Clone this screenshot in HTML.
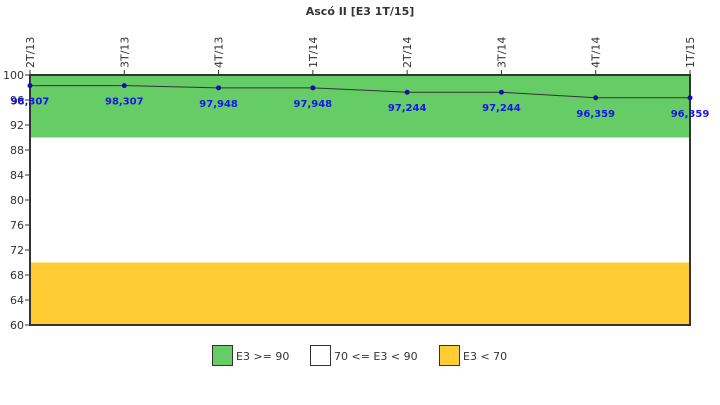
<!DOCTYPE html>
<html><head><meta charset="utf-8"><style>
body{margin:0;background:#fff;}
svg text{font-family:"DejaVu Sans","Liberation Sans",sans-serif;}
</style></head><body>
<svg id="c" width="720" height="400" xmlns="http://www.w3.org/2000/svg">
<text x="360" y="15" text-anchor="middle" font-size="11" font-weight="bold" fill="#333">Ascó II [E3 1T/15]</text>
<g id="plot"></g>
<g>
<rect x="212.5" y="345.5" width="20" height="20" fill="#66cc66" stroke="#333"/>
<text x="236" y="360" font-size="11" fill="#333">E3 &gt;= 90</text>
<rect x="310.5" y="345.5" width="20" height="20" fill="#fff" stroke="#333"/>
<text x="334" y="360" font-size="11" fill="#333">70 &lt;= E3 &lt; 90</text>
<rect x="439.5" y="345.5" width="20" height="20" fill="#ffcc33" stroke="#333"/>
<text x="463" y="360" font-size="11" fill="#333">E3 &lt; 70</text>
</g>
</svg>
<script>
const categories=["2T/13","3T/13","4T/13","1T/14","2T/14","3T/14","4T/14","1T/15"];
const values=[98.307,98.307,97.948,97.948,97.244,97.244,96.359,96.359];
const valueLabels=["98,307","98,307","97,948","97,948","97,244","97,244","96,359","96,359"];
const yTicks=[60,64,68,72,76,80,84,88,92,96,100];
const bands=[[90,100,"#66cc66"],[70,90,"#ffffff"],[60,70,"#ffcc33"]];
const X0=30,X1=690,Y0=325,Y1=75,ymin=60,ymax=100;
const xs=i=>X0+i*(X1-X0)/(categories.length-1);
const ys=v=>Y0-(v-ymin)/(ymax-ymin)*(Y0-Y1);
const NS="http://www.w3.org/2000/svg",g=document.getElementById("plot");
function mk(t,a){const e=document.createElementNS(NS,t);for(const k in a)e.setAttribute(k,a[k]);g.appendChild(e);return e;}
bands.forEach(b=>{const e=mk("rect",{x:X0,y:ys(b[1]),width:X1-X0,height:ys(b[0])-ys(b[1]),fill:b[2]});

});
const fr=mk("rect",{x:X0,y:Y1,width:X1-X0,height:Y0-Y1,fill:"none",stroke:"#333","stroke-width":2});


yTicks.forEach(v=>{mk("line",{x1:X0-5,x2:X0,y1:ys(v),y2:ys(v),stroke:"#333"});
const t=mk("text",{x:X0-6,y:ys(v)+4,"text-anchor":"end","font-size":11,fill:"#333"});t.textContent=v;

});
categories.forEach((c,i)=>{const x=xs(i);mk("line",{x1:x,x2:x,y1:Y1-5,y2:Y1,stroke:"#333"});
const t=mk("text",{x:0,y:0,"font-size":11,fill:"#333",transform:`translate(${x+4},${Y1-7}) rotate(-90)`});t.textContent=c;

});
const pl=mk("polyline",{points:values.map((v,i)=>xs(i)+","+ys(v)).join(" "),fill:"none",stroke:"#333","stroke-width":1});


values.forEach((v,i)=>{const p=mk("circle",{cx:xs(i),cy:ys(v),r:2.5,fill:"#1111aa"});


const t=mk("text",{x:xs(i),y:ys(v)+19,"text-anchor":"middle","font-size":10,"font-weight":"bold",fill:"#1515ee"});t.textContent=valueLabels[i];

});
</script>
</body></html>
